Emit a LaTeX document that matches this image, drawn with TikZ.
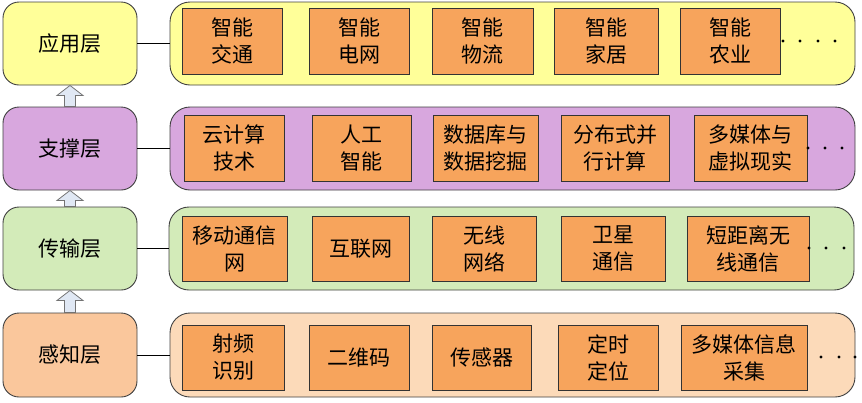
\documentclass[tikz,border=0pt]{standalone}
\usepackage{fontspec}
\newfontfamily\cjk{Noto Sans CJK SC}
\usetikzlibrary{calc}

\definecolor{yyfill}{HTML}{FFFF99}
\definecolor{zcfill}{HTML}{D8A7DE}
\definecolor{csfill}{HTML}{D3EBB9}
\definecolor{gzfill}{HTML}{FAC79C}
\definecolor{gzpanel}{HTML}{FCDAB9}
\definecolor{itemfill}{HTML}{F7A45C}
\definecolor{arrowfill}{HTML}{E0E8F4}

\tikzset{
  layer/.style={draw=black!75, line width=0.9pt, rounded corners=16pt,
    minimum width=134pt, minimum height=83pt, inner sep=0pt,
    font=\cjk\fontsize{21}{27}\selectfont},
  panel/.style={draw=black!75, line width=0.9pt, rounded corners=20pt,
    minimum width=685pt, minimum height=83pt, inner sep=0pt},
  item/.style={draw=black!80, line width=0.8pt, fill=itemfill,
    minimum height=66pt, inner sep=0pt, align=center,
    font=\cjk\fontsize{21}{27}\selectfont},
  uparrow/.style={draw=black!55, line width=0.8pt, fill=arrowfill},
}

\begin{document}
\begin{tikzpicture}[x=1pt,y=-1pt]
    \useasboundingbox (0,0) rectangle (862,402);

    % 左侧各层
    \node[layer,fill=yyfill] (yy) at (70,43.5) {应用层};
    \node[layer,fill=zcfill] (zc) at (70,148.5) {支撑层};
    \node[layer,fill=csfill] (cs) at (70,248.5) {传输层};
    \node[layer,fill=gzfill,minimum height=84pt] (gz) at (70,355) {感知层};

    % 层间箭头
    \foreach \lo/\hi in {zc/yy,cs/zc,gz/cs}
      \draw[uparrow] ($(\lo.north)+(-5.5,0)$) -- ($(\hi.south)+(-5.5,10)$)
        -- ($(\hi.south)+(-13,10)$) -- (\hi.south) -- ($(\hi.south)+(13,10)$)
        -- ($(\hi.south)+(5.5,10)$) -- ($(\lo.north)+(5.5,0)$) -- cycle;

    % 右侧底板
    \node[panel,fill=yyfill] (yyp) at (512.5,43.5) {};
    \node[panel,fill=zcfill] (zcp) at (512.5,148.5) {};
    \node[panel,fill=csfill] (csp) at (511.5,248.5) {};
    \node[panel,fill=gzpanel,minimum height=84pt] (gzp) at (512.5,355) {};

    \foreach \l in {yy,zc,cs,gz}
      \draw[line width=0.9pt] (\l.east) -- (\l p.west);

    % 应用层
    \foreach \cx/\w/\t [count=\i] in {232/100/{智能\\交通},359/100/{智能\\电网},
        482.5/101/{智能\\物流},606/104/{智能\\家居},730/100/{智能\\农业}}
      \node[item,minimum width=\w pt] (yy\i) at (\cx,41) {\t};

    % 支撑层
    \foreach \cx/\w/\t [count=\i] in {234/100/{云计算\\技术},361.5/99/{人工\\智能},
        485.5/105/{数据库与\\数据挖掘},615/108/{分布式并\\行计算},750.5/113/{多媒体与\\虚拟现实}}
      \node[item,minimum width=\w pt] (zc\i) at (\cx,148) {\t};

    % 传输层
    \foreach \cx/\w/\t [count=\i] in {234.5/105/{移动通信\\网},360.5/97/{互联网},
        484/104/{无线\\网络},613/104/{卫星\\通信},748/122/{短距离无\\线通信}}
      \node[item,minimum width=\w pt,minimum height=65pt] (cs\i) at (\cx,248.5) {\t};

    % 感知层
    \foreach \cx/\w/\t [count=\i] in {233/102/{射频\\识别},359/100/{二维码},
        481.5/99/{传感器},608/100/{定时\\定位},744/126/{多媒体信息\\采集}}
      \node[item,minimum width=\w pt,minimum height=65pt] (gz\i) at (\cx,357.5) {\t};

    % 省略号
    \foreach \x in {783,800,818,835} \fill (\x,41) circle (1.6);
    \foreach \x in {808,825,842} \fill (\x,148) circle (1.6);
    \foreach \x in {809,826,844} \fill (\x,248) circle (1.6);
    \foreach \x in {821,839,855} \fill (\x,357) circle (1.6);
\end{tikzpicture}
\end{document}
